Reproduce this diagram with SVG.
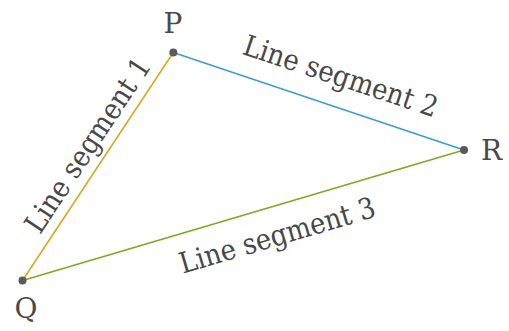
<svg xmlns="http://www.w3.org/2000/svg" width="509" height="331" viewBox="0 0 509 331">
<style>
  .lbl { font-family: "DejaVu Serif", "Liberation Serif", serif; font-size: 29px; fill: #484848; text-anchor: middle; }
  .pt { font-family: "DejaVu Serif", "Liberation Serif", serif; font-size: 28px; fill: #4a4a4a; }
  .dot { fill: #5a5a5a; }
  .seg { stroke-width: 1.6; fill: none; stroke-linecap: round; }
</style>
<rect width="509" height="331" fill="#ffffff"/>
<g id="connectors">
  <line class="seg" x1="22.5" y1="280.5" x2="173.3" y2="52.5" stroke="#dba722"/>
  <line class="seg" x1="173.3" y1="52.5" x2="464" y2="150" stroke="#3f9bd0"/>
  <line class="seg" x1="22.5" y1="280.5" x2="464" y2="150" stroke="#7aab1f"/>
  <text class="lbl" transform="translate(96 150.5) rotate(-56.5)" textLength="203" lengthAdjust="spacingAndGlyphs">Line segment 1</text>
  <text class="lbl" transform="translate(337.5 85.5) rotate(18.3)" textLength="203" lengthAdjust="spacingAndGlyphs">Line segment 2</text>
  <text class="lbl" transform="translate(280 245) rotate(-16.5)" textLength="203" lengthAdjust="spacingAndGlyphs">Line segment 3</text>
</g>
<g id="P">
  <circle class="dot" cx="173.3" cy="52.5" r="4"/>
  <text class="pt" x="173" y="33" text-anchor="middle">P</text>
</g>
<g id="R">
  <circle class="dot" cx="464" cy="150" r="4"/>
  <text class="pt" x="481" y="160">R</text>
</g>
<g id="Q">
  <circle class="dot" cx="22.5" cy="280.5" r="4"/>
  <text class="pt" x="26" y="318" text-anchor="middle">Q</text>
</g>
</svg>
